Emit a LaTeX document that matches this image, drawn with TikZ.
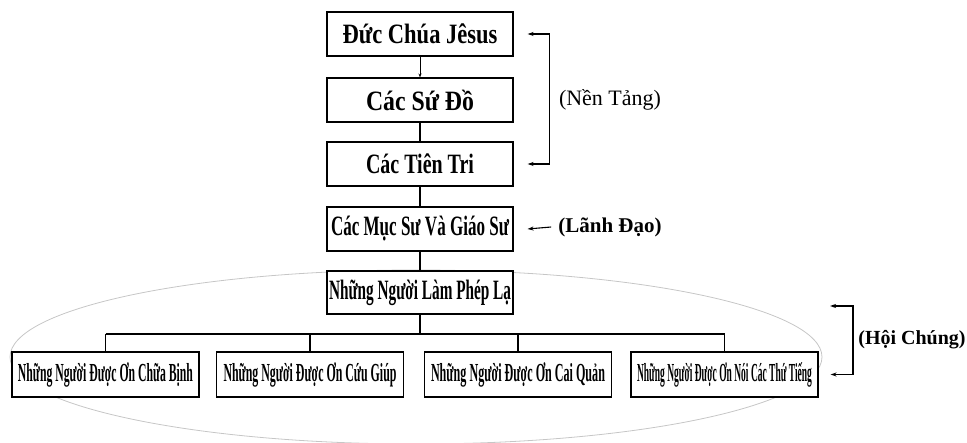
\documentclass[tikz,border=0pt]{standalone}
\usepackage{fontspec}
\setmainfont{Liberation Serif}
\usepackage{graphicx}
\usetikzlibrary{arrows.meta}
\newcommand{\fitw}[2]{\resizebox{#1pt}{\height}{#2}}

\tikzset{
  box/.style={draw, line width=1.1pt, fill=white, minimum width=186pt, minimum height=44pt,
    inner sep=0pt, font=\bfseries\fontsize{28}{30}\selectfont},
  subbox/.style={box, minimum width=187pt, minimum height=45pt, font=\bfseries\fontsize{26}{28}\selectfont},
  tag/.style={inner sep=1pt, font=\fontsize{22}{24}\selectfont},
  tagb/.style={inner sep=1pt, font=\bfseries\fontsize{21}{24}\selectfont},
  link/.style={line width=1.1pt},
  brk/.style={line width=1.3pt, {Stealth[length=6pt,width=4pt]}-{Stealth[length=6pt,width=4pt]}},
}

\begin{document}
\begin{tikzpicture}[x=1pt,y=-1pt]
			\useasboundingbox (0,0) rectangle (967,443);
			
			%%%%% ELLIPSE %%%%%
			\draw[gray!45, line width=0.8pt] (416,357) ellipse [x radius=406pt, y radius=87pt];
			
			%%%%% BOXES %%%%%
			\node[box] (jesus) at (420,34) {\fitw{155}{Đức Chúa Jêsus}};
			\node[box] (sudo) at (420,100) {\fitw{108}{Các Sứ Đồ}};
			\node[box] (tientri) at (420,164) {\fitw{108}{Các Tiên Tri}};
			\node[box] (mucsu) at (420,229) {\fitw{178}{Các Mục Sư Và Giáo Sư}};
			\node[box, minimum height=43pt] (phepla) at (420,292.5) {\fitw{182}{Những Người Làm Phép Lạ}};
			
			\node[subbox] (chuabinh) at (105.5,374.5) {\fitw{175}{Những Người Được Ơn Chữa Bịnh}};
			\node[subbox] (cuugiup) at (310,374.5) {\fitw{173}{Những Người Được Ơn Cứu Giúp}};
			\node[subbox] (caiquan) at (518,374.5) {\fitw{174}{Những Người Được Ơn Cai Quản}};
			\node[subbox] (tieng) at (724.5,374.5) {\fitw{175}{Những Người Được Ơn Nói Các Thứ Tiếng}};
			
			%%%%% LINKS %%%%%
			\draw[line width=0.9pt, -{Stealth[length=4pt,width=3pt]}] (jesus) -- (sudo);
			\draw[link] (sudo) -- (tientri);
			\draw[link] (tientri) -- (mucsu);
			\draw[link] (mucsu) -- (phepla);
			
			\coordinate (bus) at (420,334);
			\draw[link] (phepla) -- (bus);
			\draw[link] (bus -| chuabinh) -- (bus -| tieng);
			\foreach \n in {chuabinh,cuugiup,caiquan,tieng}
				\draw[link] (bus -| \n) -- (\n);
			
			%%%%% SIDE LABELS %%%%%
			\node[tag] (nentang) at (610,100) {(Nền Tảng)};
			\draw[brk] ([xshift=14pt]jesus.east) -- ++(22,0) |- ([xshift=14pt]tientri.east);
			
			\node[tagb] (lanhdao) at (610,227) {(Lãnh Đạo)};
			\draw[link, -{Stealth[length=6pt,width=4pt]}] ([xshift=-6pt]lanhdao.west) -- ([xshift=14pt]mucsu.east);
			
			\node[tagb, font=\bfseries\fontsize{20}{22}\selectfont] (hoichung) at (912,340) {(Hội Chúng)};
			\coordinate (hc) at (830,306);
			\draw[brk] (hc) -- ++(23,0) |- ([xshift=12pt]tieng.east);
		\end{tikzpicture}
\end{document}
